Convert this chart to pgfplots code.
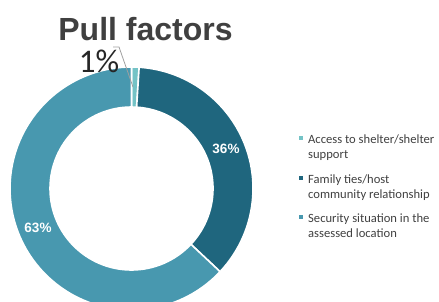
\documentclass[border=0pt]{standalone}
\usepackage{pgfplots}
\pgfplotsset{compat=1.18}
\usepackage{fontspec}
\setmainfont{Carlito}
\newfontfamily\titlefont{Liberation Sans}
\definecolor{cLight}{HTML}{74C3C6}
\definecolor{cDark}{HTML}{1F667E}
\definecolor{cMid}{HTML}{4898AF}
\definecolor{txt}{HTML}{404040}
% values (percent)
\def\va{1}
\def\vb{36}
\def\vc{63}
\def\cx{131.5}
\def\cy{112.5}
\def\Ro{121.5}
\def\Ri{81.5}
\begin{document}
\begin{tikzpicture}
\begin{axis}[
  width=439pt, height=301pt, scale only axis,
  xmin=0, xmax=439, ymin=0, ymax=301,
  hide axis, clip=true,
]
\addplot[draw=none] coordinates {(0,0) (439,301)};
\path (axis cs:\cx,\cy) coordinate (C);
% segment 1
\fill[cLight, draw=white, line width=1.6pt]
  (C) ++({90}:\Ro pt) arc[start angle={90}, end angle={90-3.6*\va}, radius=\Ro pt]
  -- ([shift={({90-3.6*\va}:\Ri pt)}]C) arc[start angle={90-3.6*\va}, end angle={90}, radius=\Ri pt] -- cycle;
% segment 2
\fill[cDark, draw=white, line width=1.6pt]
  (C) ++({90-3.6*\va}:\Ro pt) arc[start angle={90-3.6*\va}, end angle={90-3.6*(\va+\vb)}, radius=\Ro pt]
  -- ([shift={({90-3.6*(\va+\vb)}:\Ri pt)}]C) arc[start angle={90-3.6*(\va+\vb)}, end angle={90-3.6*\va}, radius=\Ri pt] -- cycle;
% segment 3
\fill[cMid, draw=white, line width=1.6pt]
  (C) ++({90-3.6*(\va+\vb)}:\Ro pt) arc[start angle={90-3.6*(\va+\vb)}, end angle={90-3.6*(\va+\vb+\vc)}, radius=\Ro pt]
  -- ([shift={({90-3.6*(\va+\vb+\vc)}:\Ri pt)}]C) arc[start angle={90-3.6*(\va+\vb+\vc)}, end angle={90-3.6*(\va+\vb)}, radius=\Ri pt] -- cycle;
% leader line
\draw[gray!75, line width=0.8pt] (axis cs:113,254) -- (axis cs:119,254) -- (axis cs:133,214);
% labels
\node[text=black!85, font=\fontsize{33pt}{36pt}\selectfont] at (axis cs:99,240) {1\%};
\node[text=white, font=\titlefont\bfseries\fontsize{13.5pt}{15pt}\selectfont] at (axis cs:226,152) {36\%};
\node[text=white, font=\titlefont\bfseries\fontsize{13.5pt}{15pt}\selectfont] at (axis cs:38,73) {63\%};
% title
\node[text=txt, anchor=base, font=\titlefont\bfseries\fontsize{32pt}{36pt}\selectfont] at (axis cs:145.5,261) {Pull factors};
% legend
\begin{scope}[every node/.style={anchor=base west, inner sep=0pt, text=txt, font=\fontsize{12.6pt}{14pt}\selectfont}]
\fill[cLight] (axis cs:299,161) rectangle (axis cs:303,165);
\node at (axis cs:308,158) {Access to shelter/shelter};
\node at (axis cs:308,143) {support};
\fill[cDark] (axis cs:299,121) rectangle (axis cs:303,125);
\node at (axis cs:308,118) {Family ties/host};
\node at (axis cs:308,103) {community relationship};
\fill[cMid] (axis cs:299,82) rectangle (axis cs:303,86);
\node at (axis cs:308,79) {Security situation in the};
\node at (axis cs:308,64) {assessed location};
\end{scope}
\end{axis}
\end{tikzpicture}
\end{document}
